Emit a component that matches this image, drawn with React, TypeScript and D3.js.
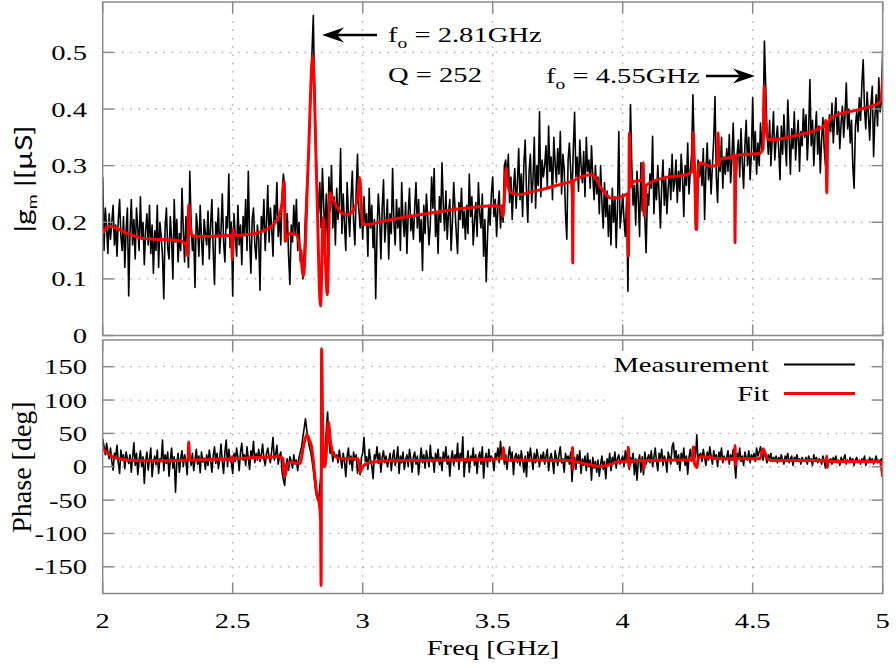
import React from 'react';
import * as d3 from 'd3';

// Measurement grid: 2.000 GHz .. 5.000 GHz, one sample every 5 MHz
const FREQ_START = 2.0;
const FREQ_STEP = 0.005;

// |gm| measurement, in units of 0.001 µS
const gmMeasuredMilli = [
  280,150,225,190,145,215,170,200,230,160,195,140,205,240,175,150,210,120,185,225,
  70,180,240,160,205,135,225,190,150,245,170,200,125,185,215,160,230,145,195,110,
  185,150,230,120,200,175,140,65,190,225,155,135,210,170,100,240,165,205,130,180,
  150,260,185,130,210,165,120,290,200,150,175,85,215,190,140,230,170,125,205,180,
  160,220,135,195,240,150,90,200,175,225,145,185,250,165,130,210,190,285,155,200,
  70,215,175,140,230,160,195,125,210,180,240,150,290,170,110,205,225,160,135,195,
  170,80,210,185,240,150,200,265,165,225,190,140,230,205,270,175,215,160,250,285,
  260,170,215,140,90,195,165,230,180,240,150,200,130,150,100,145,215,265,300,360,
  420,500,565,430,330,260,215,270,190,295,230,175,250,150,280,220,300,190,245,160,
  260,205,235,330,180,250,195,150,270,215,175,240,290,200,160,255,320,225,190,230,
  170,245,195,215,140,260,190,230,155,205,65,180,250,210,135,225,275,165,200,240,
  135,215,180,295,200,160,240,190,225,150,270,205,175,235,145,215,260,185,210,170,
  225,270,190,240,165,205,115,230,180,250,210,160,195,280,225,295,175,215,145,245,
  200,305,230,185,255,170,215,240,150,200,270,225,180,145,235,205,260,190,220,170,
  230,180,285,210,245,160,200,235,175,270,215,190,250,140,205,95,175,230,195,250,
  280,210,240,175,225,255,190,230,200,300,310,265,320,235,280,205,260,295,225,270,
  330,240,285,210,305,345,255,200,290,320,235,275,350,225,300,265,395,245,310,280,
  300,335,260,370,290,315,240,350,305,270,330,285,360,250,320,295,215,170,310,340,
  290,240,330,394,280,315,255,345,300,270,325,245,350,290,310,260,335,280,240,300,
  250,280,215,300,235,190,270,210,255,175,230,160,260,200,245,155,225,360,190,215,
  250,205,175,240,78,280,408,300,230,265,195,290,240,175,305,220,260,210,146,250,
  230,285,260,352,215,275,240,300,250,190,265,310,230,280,215,260,295,240,320,255,
  270,310,235,290,255,320,280,210,300,265,340,250,290,320,425,330,187,260,310,280,
  305,265,330,205,290,340,275,310,250,300,345,422,280,235,320,290,350,260,315,285,
  330,290,355,270,310,375,295,240,320,345,280,365,305,260,335,380,300,350,275,320,
  420,310,360,285,340,300,375,330,370,520,440,360,320,380,300,350,395,310,345,370,
  330,275,370,320,390,340,300,416,355,285,365,330,395,310,350,380,290,360,335,400,
  350,390,310,360,452,335,380,300,355,395,320,370,287,345,385,330,300,375,340,390,
  360,410,340,385,420,355,395,330,375,405,350,390,446,365,400,340,380,300,260,370,
  395,360,420,380,445,487,400,365,430,390,345,410,440,316,385,425,370,455,395,415,
  505,
];

// Phase measurement, degrees
const phaseMeasured = [
  42,30,18,35,22,12,28,8,-5,20,15,32,6,-10,25,10,18,-3,22,12,
  5,18,-8,14,36,2,20,-12,10,24,0,15,-25,8,22,-5,12,28,-15,6,
  16,3,25,-10,12,8,40,-6,18,5,22,-14,10,28,-2,15,-38,6,20,-8,
  12,24,0,18,8,-12,35,14,2,20,-6,10,26,4,16,-9,22,7,13,-4,
  18,2,25,10,-8,16,30,5,20,-3,12,34,8,-10,22,40,0,26,10,6,
  -10,20,8,28,14,-6,22,35,10,18,2,30,12,-4,24,16,38,6,20,10,
  26,8,18,34,12,2,20,28,14,6,24,44,10,18,32,4,16,22,-8,-20,
  -28,2,12,-5,15,8,-2,18,4,10,-6,14,22,30,45,58,72,55,40,30,
  22,10,-5,-22,-38,-48,-52,-30,-10,5,15,20,55,82,40,20,30,8,22,14,
  18,6,25,12,-2,20,8,-15,15,28,4,16,-6,22,10,18,-10,5,-12,14,
  20,44,8,15,-4,26,10,2,-18,18,12,30,5,20,-8,14,24,6,16,0,
  8,20,-6,14,25,2,12,30,-10,16,6,22,-4,10,18,0,26,12,-8,15,
  22,4,16,-12,10,28,6,18,-2,24,12,0,32,8,14,-8,20,10,26,3,
  14,-6,22,10,30,4,16,-14,12,24,2,18,8,35,-4,20,10,45,-15,12,
  6,24,-8,16,10,28,2,18,-10,14,22,4,30,-17,12,20,0,26,8,16,
  10,-6,20,14,28,6,38,12,25,4,18,-4,16,30,8,22,-12,14,20,6,
  18,2,24,10,-8,16,-15,22,8,28,12,-4,20,6,26,14,0,18,10,22,
  4,16,26,-6,12,20,8,-10,24,14,2,18,30,6,12,-8,20,10,16,4,
  22,-22,8,14,-4,18,6,24,-10,12,2,16,-6,20,0,10,-20,14,-2,8,
  -8,10,-14,4,16,-4,8,-18,12,2,20,-6,14,6,22,-2,12,18,4,10,
  16,0,24,10,30,-4,14,6,20,-12,12,-20,8,18,-8,15,-12,22,4,12,
  18,6,24,0,14,28,8,-6,20,12,26,2,16,10,-8,22,14,4,30,36,
  12,24,4,18,-6,20,10,28,2,16,-11,14,26,8,22,30,14,48,6,18,
  20,8,26,14,2,22,10,30,16,4,24,12,18,0,22,14,28,6,16,10,
  14,24,4,18,10,26,6,-17,20,12,28,8,16,2,22,14,10,24,6,18,
  12,20,8,28,16,22,30,18,10,24,14,6,18,12,20,8,14,10,16,6,
  14,8,18,10,4,16,12,20,6,12,16,2,14,10,18,8,12,4,14,10,
  8,14,4,16,10,12,2,18,8,14,6,12,10,4,16,8,-2,14,6,10,
  12,4,14,8,16,6,10,2,14,8,12,18,4,10,6,14,8,12,2,10,
  14,6,10,4,12,8,16,2,10,6,14,8,12,4,10,16,6,10,8,12,
  -12,
];

// Fit of |gm| (GHz, µS)
const gmFitFreq = [2.000,2.015,2.030,2.060,2.100,2.150,2.200,2.250,2.300,2.320,2.327,2.331,2.336,2.342,2.360,2.420,2.495,2.499,2.501,2.505,2.550,2.600,2.640,2.670,2.690,2.698,2.702,2.710,2.720,2.745,2.760,2.772,2.790,2.808,2.823,2.838,2.848,2.864,2.874,2.885,2.900,2.920,2.940,2.960,2.975,2.984,2.988,3.000,3.010,3.100,3.200,3.300,3.400,3.500,3.530,3.540,3.552,3.560,3.570,3.605,3.650,3.708,3.760,3.800,3.806,3.808,3.810,3.840,3.874,3.890,3.913,3.935,3.952,3.975,4.000,4.018,4.022,4.026,4.030,4.041,4.075,4.079,4.082,4.090,4.156,4.200,4.246,4.268,4.271,4.276,4.284,4.290,4.297,4.342,4.364,4.367,4.370,4.374,4.425,4.430,4.432,4.435,4.480,4.528,4.540,4.545,4.550,4.560,4.600,4.682,4.740,4.778,4.781,4.785,4.789,4.810,4.900,4.950,4.990,4.996,5.000];
const gmFitValue = [0.181,0.190,0.193,0.188,0.179,0.172,0.170,0.169,0.167,0.160,0.140,0.231,0.200,0.178,0.175,0.175,0.177,0.134,0.188,0.177,0.178,0.182,0.190,0.203,0.235,0.272,0.166,0.175,0.180,0.178,0.150,0.105,0.300,0.493,0.270,0.052,0.208,0.072,0.252,0.240,0.228,0.216,0.213,0.218,0.232,0.255,0.279,0.196,0.196,0.204,0.212,0.219,0.225,0.229,0.228,0.210,0.296,0.262,0.252,0.249,0.254,0.260,0.267,0.272,0.274,0.128,0.272,0.280,0.284,0.282,0.263,0.250,0.243,0.243,0.246,0.250,0.140,0.358,0.262,0.272,0.275,0.305,0.212,0.265,0.278,0.281,0.284,0.290,0.358,0.300,0.187,0.290,0.305,0.299,0.302,0.358,0.300,0.311,0.316,0.318,0.164,0.318,0.320,0.322,0.330,0.440,0.370,0.346,0.347,0.355,0.362,0.372,0.380,0.252,0.374,0.387,0.398,0.404,0.412,0.425,0.457];

// Fit of phase (GHz, deg)
const phaseFitFreq = [2.000,2.020,2.041,2.080,2.118,2.200,2.300,2.328,2.331,2.334,2.340,2.420,2.497,2.499,2.501,2.504,2.600,2.682,2.693,2.700,2.710,2.720,2.740,2.759,2.772,2.785,2.795,2.804,2.815,2.823,2.833,2.838,2.840,2.842,2.846,2.852,2.857,2.868,2.877,2.887,2.913,2.983,2.990,3.000,3.015,3.067,3.200,3.400,3.528,3.538,3.541,3.545,3.560,3.797,3.806,3.807,3.809,3.812,3.850,3.913,3.950,3.977,4.020,4.022,4.024,4.030,4.080,4.082,4.085,4.200,4.268,4.271,4.276,4.286,4.290,4.300,4.380,4.430,4.432,4.434,4.437,4.528,4.540,4.556,4.570,4.700,4.783,4.785,4.787,4.790,4.990,5.000];
const phaseFitValue = [27,20,14,11,9.5,9,9.5,10,37,12,10,11,12,15.5,8,12,14,15,12,-15,2,7,6,5,30,48,40,29,-10,-40,-55,-80,-178,177,60,0,5,67,35,19.5,12,12,-8,0,4.5,8.4,9.5,10.5,12,14,29,12,10,9.4,9,29,-4,8,5,0.5,3,7,8,29,-1,9,9.5,-3,9,10,11,30,5,-1,12,15,12,12,32,2,12,12,27,12,9.4,9.4,9,16,-1,8,8,-15];

const xTicks = [2, 2.5, 3, 3.5, 4, 4.5, 5];
const xTickLabels = ['2', '2.5', '3', '3.5', '4', '4.5', '5'];
const gmTicks = [0, 0.1, 0.2, 0.3, 0.4, 0.5];
const gmTickLabels = ['0', '0.1', '0.2', '0.3', '0.4', '0.5'];
const phaseTicks = [-150, -100, -50, 0, 50, 100, 150];
const phaseTickLabels = ['-150', '-100', '-50', '0', '50', '100', '150'];

const SERIF = '"Liberation Serif", "Times New Roman", serif';
const SANS = 'Lato, "Open Sans", "Liberation Sans", sans-serif';
const SX = 1.3;
const FRAME = '#8a8a8a';
const GRID = '#a8a8a8';

function Label({ x, y, anchor = 'start', size = 22, children }: any) {
  return (
    <text transform={`translate(${x},${y}) scale(${SX},1)`} textAnchor={anchor}
      fontFamily={SERIF} fontSize={size} fill="#000">{children}</text>
  );
}

function Arrow({ x1, x2, y }: any) {
  const dir = x2 > x1 ? 1 : -1;
  const hl = 22, hw = 7.5, notch = 15;
  const tip = x2;
  const back = x2 - dir * hl;
  const n = x2 - dir * notch;
  return (
    <g>
      <line x1={x1} y1={y} x2={n} y2={y} stroke="#000" strokeWidth={2.6} />
      <path d={`M${tip},${y}L${back},${y - hw}L${n},${y}L${back},${y + hw}Z`} fill="#000" />
    </g>
  );
}

export default function App() {
  const L = 102.7, R = 882.7;
  const gTop = 2, gBot = 335.5, pTop = 340, pBot = 593.5;
  const x = d3.scaleLinear().domain([2, 5]).range([L, R]);
  const yG = d3.scaleLinear().domain([0, 0.589]).range([gBot, gTop]);
  const yP = d3.scaleLinear().domain([-190, 190]).range([pBot, pTop]);

  const idx = d3.range(gmMeasuredMilli.length);
  const fAt = (i: number) => FREQ_START + i * FREQ_STEP;
  const gmMeasPath = d3.line<number>().x(i => x(fAt(i))).y(i => yG(gmMeasuredMilli[i] / 1000))(idx) || '';
  const phMeasPath = d3.line<number>().x(i => x(fAt(i))).y(i => yP(phaseMeasured[i]))(d3.range(phaseMeasured.length)) || '';
  const gmFitPath = d3.line<number>().x(i => x(gmFitFreq[i])).y(i => yG(gmFitValue[i])).curve(d3.curveMonotoneX)(d3.range(gmFitFreq.length)) || '';
  const phFitPath = d3.line<number>().x(i => x(phaseFitFreq[i])).y(i => yP(phaseFitValue[i])).curve(d3.curveMonotoneX)(d3.range(phaseFitFreq.length)) || '';

  const tickLen = 11;
  const innerX = xTicks.filter(t => t > 2 && t < 5);

  return (
    <svg width={896} height={668} style={{ position: 'absolute', left: 0, top: 0, background: '#fff' }}>
      <defs>
        <clipPath id="clipG"><rect x={L} y={gTop} width={R - L} height={gBot - gTop} /></clipPath>
        <clipPath id="clipP"><rect x={L} y={pTop} width={R - L} height={pBot - pTop} /></clipPath>
      </defs>
      <rect x={0} y={0} width={896} height={668} fill="#fff" />

      {/* grid */}
      <g stroke={GRID} strokeWidth={1.3} strokeDasharray="1.5,6.8">
        {gmTicks.filter(t => t > 0).map(t => (
          <line key={'gh' + t} x1={L + tickLen} x2={R - tickLen} y1={yG(t)} y2={yG(t)} />
        ))}
        {innerX.map(t => (
          <line key={'gv' + t} x1={x(t)} x2={x(t)} y1={gTop + tickLen} y2={gBot - tickLen} />
        ))}
        {phaseTicks.map(t => (
          <line key={'ph' + t} x1={L + tickLen} x2={R - tickLen} y1={yP(t)} y2={yP(t)} />
        ))}
        {innerX.map(t => (
          <line key={'pv' + t} x1={x(t)} x2={x(t)} y1={pTop + tickLen} y2={pBot - tickLen} />
        ))}
      </g>

      {/* legend background */}
      <rect x={606} y={344} width={264} height={66} fill="#fff" />

      {/* data */}
      <g clipPath="url(#clipG)">
        <path d={gmMeasPath} fill="none" stroke="#000" strokeWidth={1.6} strokeLinejoin="round" />
        <path d={gmFitPath} fill="none" stroke="#ff0000" strokeWidth={3} strokeLinejoin="round" />
      </g>
      <g clipPath="url(#clipP)">
        <path d={phMeasPath} fill="none" stroke="#000" strokeWidth={1.6} strokeLinejoin="round" />
        <path d={phFitPath} fill="none" stroke="#ff0000" strokeWidth={3} strokeLinejoin="round" />
      </g>

      {/* frames and ticks */}
      <g stroke={FRAME} strokeWidth={1.5} fill="none">
        <rect x={L} y={gTop} width={R - L} height={gBot - gTop} />
        <rect x={L} y={pTop} width={R - L} height={pBot - pTop} />
        {gmTicks.map(t => (
          <g key={'gt' + t}>
            <line x1={L} x2={L + tickLen} y1={yG(t)} y2={yG(t)} />
            <line x1={R} x2={R - tickLen} y1={yG(t)} y2={yG(t)} />
          </g>
        ))}
        {phaseTicks.map(t => (
          <g key={'pt' + t}>
            <line x1={L} x2={L + tickLen} y1={yP(t)} y2={yP(t)} />
            <line x1={R} x2={R - tickLen} y1={yP(t)} y2={yP(t)} />
          </g>
        ))}
        {xTicks.map(t => (
          <g key={'xt' + t}>
            <line x1={x(t)} x2={x(t)} y1={gTop} y2={gTop + tickLen} />
            <line x1={x(t)} x2={x(t)} y1={gBot} y2={gBot - tickLen} />
            <line x1={x(t)} x2={x(t)} y1={pTop} y2={pTop + tickLen} />
            <line x1={x(t)} x2={x(t)} y1={pBot} y2={pBot - tickLen} />
          </g>
        ))}
      </g>

      {/* tick labels */}
      {gmTicks.map((t, i) => (
        <Label key={'gl' + t} x={87} y={yG(t) + 7.5} anchor="end">{gmTickLabels[i]}</Label>
      ))}
      {phaseTicks.map((t, i) => (
        <Label key={'pl' + t} x={87} y={yP(t) + 7.5} anchor="end">{phaseTickLabels[i]}</Label>
      ))}
      {xTicks.map((t, i) => (
        <Label key={'xl' + t} x={x(t)} y={628} anchor="middle">{xTickLabels[i]}</Label>
      ))}

      {/* axis titles */}
      <Label x={493} y={655} anchor="middle">Freq [GHz]</Label>
      <text transform="translate(32,179) scale(0.75,1) rotate(-90)" textAnchor="middle" fontFamily={SANS} fontSize={30} fill="#000">
        |g<tspan fontSize={18} dy={6}>m</tspan><tspan dy={-6}> |[µS]</tspan>
      </text>
      <text transform="translate(31,467) rotate(-90)" textAnchor="middle" fontFamily={SERIF} fontSize={28} fill="#000">Phase [deg]</text>

      {/* annotations */}
      <Arrow x1={377} x2={322} y={35} />
      <Label x={388} y={42}>f<tspan fontSize={15} dy={6}>o</tspan><tspan dy={-6}> = 2.81GHz</tspan></Label>
      <Label x={388} y={82}>Q = 252</Label>
      <Label x={546} y={83}>f<tspan fontSize={15} dy={6}>o</tspan><tspan dy={-6}> = 4.55GHz</tspan></Label>
      <Arrow x1={706} x2={755} y={76} />

      {/* legend */}
      <Label x={769} y={372} anchor="end">Measurement</Label>
      <line x1={784} x2={855} y1={364.5} y2={364.5} stroke="#000" strokeWidth={2} />
      <Label x={769} y={401} anchor="end">Fit</Label>
      <line x1={784} x2={855} y1={393.5} y2={393.5} stroke="#ff0000" strokeWidth={3} />
    </svg>
  );
}
